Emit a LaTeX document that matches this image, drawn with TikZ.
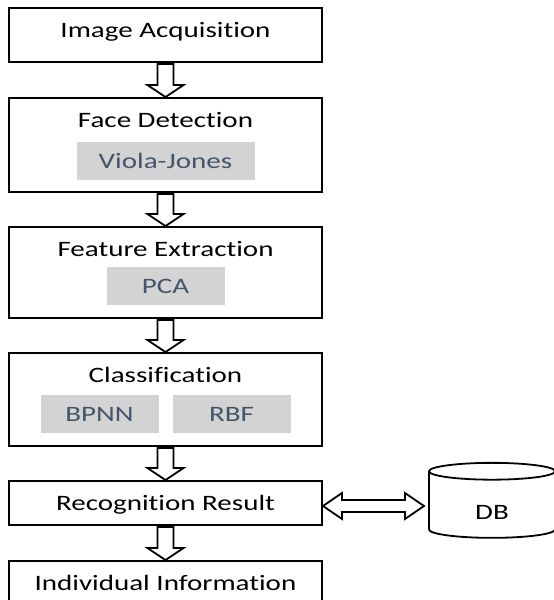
\documentclass[tikz,border=0pt]{standalone}
\usepackage{fontspec}
\setmainfont{Carlito}[FakeStretch=1.32, Ligatures=NoCommon]
\usepackage{xcolor}
\usetikzlibrary{shapes.geometric, positioning, calc}

\definecolor{methodfill}{HTML}{D3D3D3}
\definecolor{methodtext}{HTML}{44546A}

\begin{document}
\begin{tikzpicture}[x=1pt, y=-1pt, font=\fontsize{22}{26}\selectfont]
\tikzstyle{stage} = [rectangle, draw, line width=1.8pt, outer sep=0pt, minimum width=313pt, text height=14pt, text depth=0pt, inner sep=0pt]
\tikzstyle{title} = [anchor=base, inner sep=0pt]
\tikzstyle{method} = [rectangle, fill=methodfill, text=methodtext, minimum height=38pt, text height=14pt, text depth=0pt, inner sep=0pt]
\tikzstyle{store} = [cylinder, draw, line width=1.8pt, outer sep=0pt, shape border rotate=90, aspect=0.5, minimum width=126pt, minimum height=75pt, text height=28pt, text depth=0pt, inner sep=0pt]
\tikzstyle{flow} = [draw, line width=1.8pt, line join=miter, to path={let \p1=(\tikztostart), \p2=(\tikztotarget) in (\x1-8pt,\y1-2pt) -- (\x1-8pt,\y2+13pt) -- (\x1-18pt,\y2+13pt) -- (\x1,\y2+1pt) -- (\x1+18pt,\y2+13pt) -- (\x1+8pt,\y2+13pt) -- (\x1+8pt,\y1-2pt) -- cycle}]
\tikzstyle{link} = [draw, line width=1.8pt, line join=miter, to path={let \p1=(\tikztostart), \p2=(\tikztotarget) in (\x1+1pt,\y1) -- (\x1+20pt,\y1+13pt) -- (\x1+20pt,\y1+6pt) -- (\x2-24pt,\y1+6pt) -- (\x2-24pt,\y1+13pt) -- (\x2-5pt,\y1) -- (\x2-24pt,\y1-13pt) -- (\x2-24pt,\y1-6pt) -- (\x1+20pt,\y1-6pt) -- (\x1+20pt,\y1-13pt) -- cycle}]

\useasboundingbox (0,0) rectangle (554,600);
\fill[white] (0,0) rectangle (554,600);
\clip (0,0) rectangle (554,600);

% pipeline stages
\node (acq) [stage, minimum height=54pt, text depth=10pt] at (165.5,35) {Image Acquisition};
\node (face) [stage, minimum height=94pt, below=36pt of acq] {};
\node (feat) [stage, minimum height=91pt, below=35pt of face] {};
\node (cls) [stage, minimum height=93pt, below=35pt of feat] {};
\node (rec) [stage, minimum height=44pt, below=35pt of cls] {Recognition Result};
\node (info) [stage, minimum height=44pt, below=36pt of rec] {Individual Information};

% titles and methods inside the stages
\node (facetitle) [title] at ([yshift=-29pt]face.north) {Face Detection};
\node (viola) [method, minimum width=178pt, below=44pt of face.north] {Viola-Jones};
\node (feattitle) [title] at ([yshift=-29pt]feat.north) {Feature Extraction};
\node (pca) [method, minimum width=118pt, below=40pt of feat.north] {PCA};
\node (clstitle) [title] at ([yshift=-29pt]cls.north) {Classification};
\node (bpnn) [method, minimum width=118pt, below=42pt of cls.north, xshift=-66pt] {BPNN};
\node (rbf) [method, minimum width=118pt, below=42pt of cls.north, xshift=66pt] {RBF};

% database
\node (db) [store] at (492,505) {DB};

\draw [flow] (acq.south) to (face.north);
\draw [flow] (face.south) to (feat.north);
\draw [flow] (feat.south) to (cls.north);
\draw [flow] (cls.south) to (rec.north);
\draw [flow] (rec.south) to (info.north);
\draw [link] ([yshift=-3pt]rec.east) to (db.west);

\end{tikzpicture}
\end{document}
